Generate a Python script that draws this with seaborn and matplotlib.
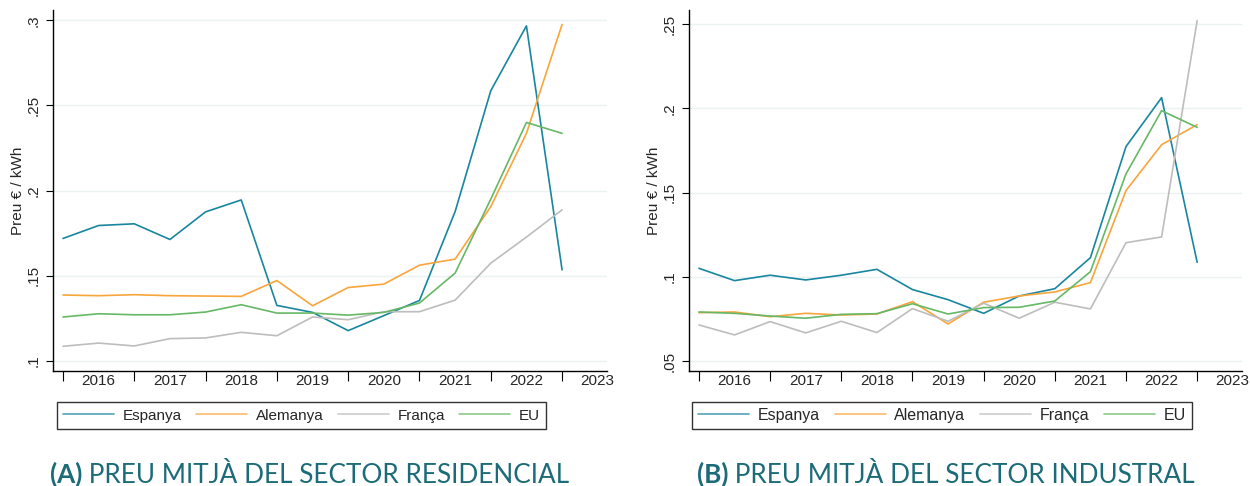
import numpy as np
import pandas as pd
import matplotlib
matplotlib.use("Agg")
import matplotlib.pyplot as plt
import seaborn as sns
from matplotlib.ticker import FixedLocator, FuncFormatter, NullFormatter
from matplotlib.lines import Line2D

# ---------------- data ----------------
periods = ["2016S1", "2016S2", "2017S1", "2017S2", "2018S1", "2018S2", "2019S1", "2019S2",
           "2020S1", "2020S2", "2021S1", "2021S2", "2022S1", "2022S2", "2023S1"]
countries = ["Espanya", "Alemanya", "França", "EU"]

res_espanya = [0.1719, 0.1795, 0.1805, 0.1713, 0.1875, 0.1945, 0.1326, 0.1285,
               0.1178, 0.1266, 0.1355, 0.1877, 0.2586, 0.2967, 0.1535]
res_alemanya = [0.1387, 0.1383, 0.1389, 0.1383, 0.1381, 0.1379, 0.1472, 0.1324,
                0.1431, 0.1451, 0.1562, 0.1598, 0.1906, 0.2336, 0.2975]
res_franca = [0.1086, 0.1105, 0.1088, 0.1131, 0.1135, 0.1168, 0.1148, 0.1258,
              0.1242, 0.1289, 0.1289, 0.1357, 0.1574, 0.1727, 0.1887]
res_eu = [0.1258, 0.1277, 0.1271, 0.1271, 0.1287, 0.1330, 0.1281, 0.1281,
          0.1269, 0.1285, 0.1340, 0.1516, 0.1950, 0.2400, 0.2336]

ind_espanya = [0.1051, 0.0978, 0.1010, 0.0982, 0.1010, 0.1045, 0.0925, 0.0865,
               0.0784, 0.0887, 0.0930, 0.1114, 0.1773, 0.2063, 0.1087]
ind_alemanya = [0.0788, 0.0792, 0.0764, 0.0784, 0.0774, 0.0780, 0.0853, 0.0721,
                0.0850, 0.0887, 0.0911, 0.0966, 0.1512, 0.1784, 0.1903]
ind_franca = [0.0715, 0.0656, 0.0735, 0.0668, 0.0737, 0.0670, 0.0812, 0.0737,
              0.0844, 0.0755, 0.0850, 0.0810, 0.1203, 0.1237, 0.2520]
ind_eu = [0.0792, 0.0784, 0.0768, 0.0755, 0.0778, 0.0782, 0.0841, 0.0780,
          0.0818, 0.0820, 0.0857, 0.1031, 0.1611, 0.1986, 0.1887]

year_labels = ["2016", "2017", "2018", "2019", "2020", "2021", "2022", "2023"]
res_yticks = [0.10, 0.15, 0.20, 0.25, 0.30]
ind_yticks = [0.05, 0.10, 0.15, 0.20, 0.25]

titles = [("(A)", " PREU MITJÀ DEL SECTOR RESIDENCIAL"),
          ("(B)", " PREU MITJÀ DEL SECTOR INDUSTRAL")]
ylabel = "Preu € / kWh"

colors = {"Espanya": "#18869f", "Alemanya": "#f9a53c", "França": "#bdbdbd", "EU": "#66b866"}


def period_to_num(p):
    return int(p[:4]) + (0.5 if p.endswith("S2") else 0.0)


def long_frame(series):
    rows = []
    for c, vals in zip(countries, series):
        for p, v in zip(periods, vals):
            rows.append({"t": period_to_num(p), "pais": c, "preu": v})
    return pd.DataFrame(rows)


df_res = long_frame([res_espanya, res_alemanya, res_franca, res_eu])
df_ind = long_frame([ind_espanya, ind_alemanya, ind_franca, ind_eu])

# ---------------- figure ----------------
sns.set_theme(style="white")
plt.rcParams["font.family"] = ["Liberation Sans", "DejaVu Sans"]

W, H = 1250, 486
fig = plt.figure(figsize=(W / 100, H / 100), dpi=100)


def px_axes(x0, y0, x1, y1):
    return fig.add_axes([x0 / W, 1 - y1 / H, (x1 - x0) / W, (y1 - y0) / H])


ax1 = px_axes(53, 10, 607, 371)
ax2 = px_axes(689, 10, 1242, 371)

years = [int(y) for y in year_labels]


def fmt_y(v, pos):
    s = ("%.2f" % v).rstrip("0").rstrip(".")
    if s.startswith("0"):
        s = s[1:]
    return s


FS = 11


def style_axes(ax, df, yticks, ylim):
    sns.lineplot(data=df, x="t", y="preu", hue="pais", hue_order=countries,
                 palette=colors, linewidth=1.2, ax=ax, legend=False)
    ax.set_xlim(2015.86, 2023.63)
    ax.set_ylim(*ylim)
    ax.set_yticks(yticks)
    ax.yaxis.set_major_formatter(FuncFormatter(fmt_y))
    ax.grid(axis="y", color="#eaf2f4", linewidth=1.0)
    ax.grid(axis="x", visible=False)
    ax.xaxis.set_major_locator(FixedLocator(years))
    ax.xaxis.set_major_formatter(NullFormatter())
    ax.xaxis.set_minor_locator(FixedLocator([y + 0.5 for y in years]))
    ax.set_xticklabels(year_labels, minor=True)
    ax.tick_params(axis="x", which="major", direction="out", length=7, width=0.8,
                   color="black", bottom=True)
    ax.tick_params(axis="x", which="minor", length=0, labelsize=FS, pad=2.5, bottom=True)
    ax.tick_params(axis="y", direction="out", length=5, width=0.8, color="black",
                   labelsize=FS, left=True, pad=4)
    for lab in ax.get_yticklabels():
        lab.set_rotation(90)
        lab.set_va("center")
    for s in ["top", "right"]:
        ax.spines[s].set_visible(False)
    for s in ["left", "bottom"]:
        ax.spines[s].set_color("black")
        ax.spines[s].set_linewidth(1.0)
    ax.set_xlabel("")
    ax.set_ylabel(ylabel, fontsize=FS, labelpad=1)
    ax.set_facecolor("white")


style_axes(ax1, df_res, res_yticks, (0.0941, 0.306))
style_axes(ax2, df_ind, ind_yticks, (0.0442, 0.2583))

# legends
handles = [Line2D([], [], color=colors[c], linewidth=1.2, alpha=0.75) for c in countries]
for ax, (lx0, lx1), fs, cs in zip([ax1, ax2], [(57, 546), (693, 1191)], [11, 11.5], [0.95, 0.9]):
    ly0, ly1 = 401, 430
    leg = ax.legend(handles, countries, ncol=4,
                    loc="center", bbox_to_anchor=((lx0 + lx1) / 2 / W, 1 - (ly0 + ly1) / 2 / H),
                    bbox_transform=fig.transFigure, frameon=True, fancybox=False,
                    edgecolor="black", fontsize=fs, handlelength=51 / (fs * 100 / 72),
                    handletextpad=0.55, borderpad=0.4, borderaxespad=0.0,
                    columnspacing=cs)
    leg.get_frame().set_linewidth(1.0)

# titles
title_color = "#1c6b78"
fig.canvas.draw()
renderer = fig.canvas.get_renderer()
for (bold, rest), x0 in zip(titles, [50, 697]):
    t1 = fig.text(x0 / W, 3 / H, bold, fontsize=18.8, fontweight="bold", color=title_color,
                  family=["Lato", "DejaVu Sans"], ha="left", va="baseline")
    bb = t1.get_window_extent(renderer=renderer)
    fig.text(bb.x1 / W, 3 / H, rest, fontsize=18.8, color=title_color,
             family=["Lato", "DejaVu Sans"], ha="left", va="baseline")

fig.savefig("out.png", dpi=100, facecolor="white")
